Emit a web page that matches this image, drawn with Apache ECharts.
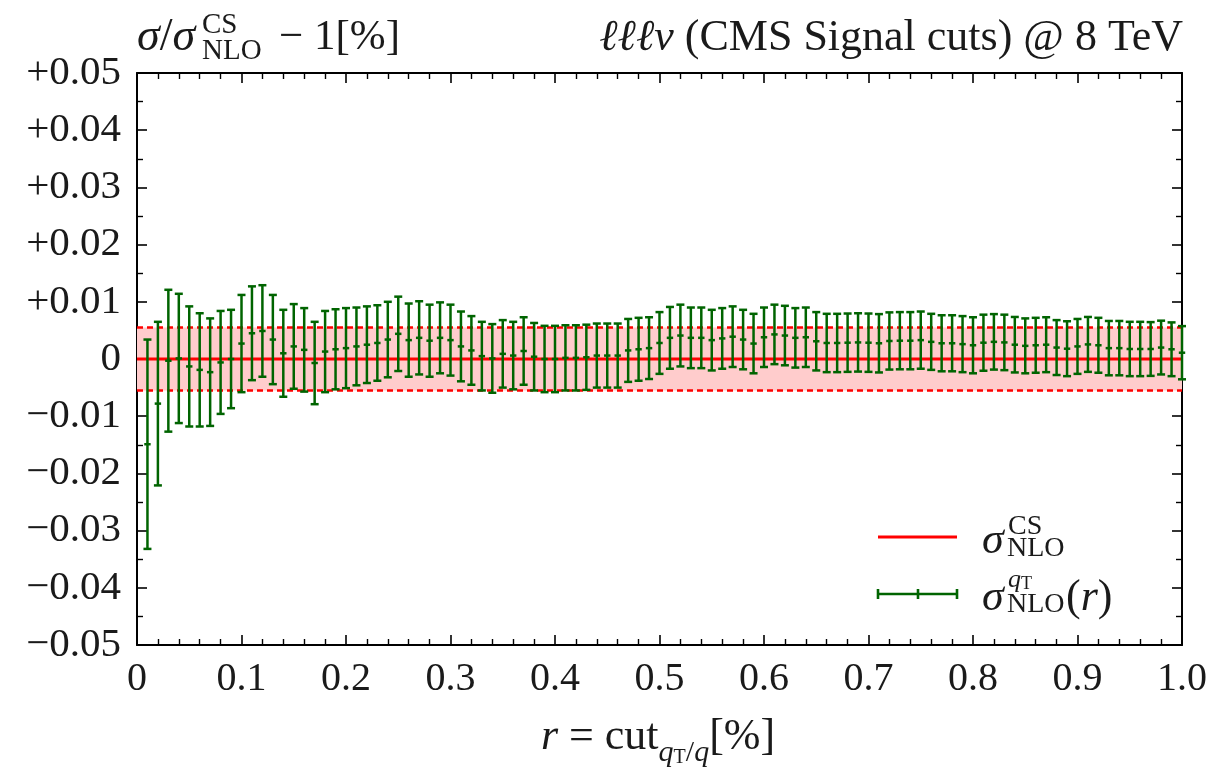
<!DOCTYPE html>
<html><head><meta charset="utf-8">
<script src="https://cdn.jsdelivr.net/npm/echarts@6/dist/echarts.min.js"></script>
<style>html,body{margin:0;padding:0;background:#fff}#c{width:1216px;height:771px}</style>
</head><body><div id="c"></div>
<script>
// r = cut_{qT/q} [%]
const rValues = [0.01,0.02,0.03,0.04,0.05,0.06,0.07,0.08,0.09,0.10,
  0.11,0.12,0.13,0.14,0.15,0.16,0.17,0.18,0.19,0.20,
  0.21,0.22,0.23,0.24,0.25,0.26,0.27,0.28,0.29,0.30,
  0.31,0.32,0.33,0.34,0.35,0.36,0.37,0.38,0.39,0.40,
  0.41,0.42,0.43,0.44,0.45,0.46,0.47,0.48,0.49,0.50,
  0.51,0.52,0.53,0.54,0.55,0.56,0.57,0.58,0.59,0.60,
  0.61,0.62,0.63,0.64,0.65,0.66,0.67,0.68,0.69,0.70,
  0.71,0.72,0.73,0.74,0.75,0.76,0.77,0.78,0.79,0.80,
  0.81,0.82,0.83,0.84,0.85,0.86,0.87,0.88,0.89,0.90,
  0.91,0.92,0.93,0.94,0.95,0.96,0.97,0.98,0.99,1.00];
// sigma_NLO^{qT}(r)/sigma_NLO^CS - 1 [%]
const deviation = [-0.0149,-0.0078,-0.0003,0.0001,-0.0013,-0.0019,-0.0023,-0.0006,0.0000,0.0027,
  0.0045,0.0049,0.0034,0.0010,0.0022,0.0016,-0.0007,0.0013,0.0017,0.0019,
  0.0022,0.0025,0.0028,0.0034,0.0044,0.0033,0.0037,0.0032,0.0037,0.0033,
  0.0022,0.0015,0.0005,0.0001,0.0009,0.0006,0.0014,0.0004,0.0000,0.0000,
  0.0002,0.0002,0.0003,0.0006,0.0006,0.0006,0.0015,0.0017,0.0019,0.0028,
  0.0037,0.0041,0.0037,0.0037,0.0033,0.0036,0.0039,0.0034,0.0027,0.0038,
  0.0043,0.0041,0.0037,0.0038,0.0031,0.0028,0.0028,0.00285,0.0029,0.00285,
  0.00275,0.00315,0.0032,0.0032,0.0033,0.0030,0.00275,0.00275,0.0026,0.0024,
  0.00285,0.0030,0.0029,0.0025,0.0023,0.0024,0.0025,0.0020,0.0018,0.0022,
  0.00255,0.0024,0.0019,0.0019,0.00175,0.00175,0.00175,0.0020,0.0017,0.0011];
// MC integration uncertainty (half width of error bar)
const uncertainty = [0.0183,0.0143,0.0124,0.0113,0.0105,0.0099,0.0094,0.0090,0.0086,0.0085,
  0.0082,0.0080,0.0078,0.0076,0.0074,0.0073,0.0072,0.0071,0.0070,0.0070,
  0.0068,0.0067,0.0066,0.0066,0.0065,0.0064,0.0064,0.0063,0.0062,0.0062,
  0.0061,0.0060,0.0060,0.0060,0.0059,0.0059,0.0059,0.0059,0.0058,0.0058,
  0.0057,0.0057,0.0057,0.0056,0.0056,0.0056,0.0055,0.0055,0.0054,0.0054,
  0.0054,0.0054,0.0053,0.0053,0.0053,0.0053,0.0053,0.0052,0.0052,0.0052,
  0.0052,0.0052,0.0052,0.0052,0.0051,0.0051,0.0051,0.0051,0.0051,0.0051,
  0.0051,0.0050,0.0050,0.0050,0.0050,0.0049,0.0049,0.0049,0.0049,0.0049,
  0.0049,0.00485,0.00485,0.00485,0.0048,0.0048,0.0048,0.0048,0.0048,0.0048,
  0.0048,0.0048,0.00475,0.00475,0.00475,0.00475,0.0047,0.0047,0.0047,0.00465];
// sigma_NLO^CS reference and its uncertainty band
const csRange = [0, 1];
const csValue = 0;
const csBandHalfWidth = 0.0055;
const xTickLabels = ['0','0.1','0.2','0.3','0.4','0.5','0.6','0.7','0.8','0.9','1.0'];
const yTickLabels = ['\u22120.05','\u22120.04','\u22120.03','\u22120.02','\u22120.01','0','+0.01','+0.02','+0.03','+0.04','+0.05'];

const FONT = 'Liberation Serif';
const INK = '#1a1a1a';
const GREEN = '#006400';
const RED = '#ff0000';

const chart = echarts.init(document.getElementById('c'), null, {renderer: 'canvas'});

const axisCommon = {
  type: 'value',
  axisLine: {show: true, onZero: false, lineStyle: {color: '#000', width: 2}},
  axisTick: {show: true, inside: true, length: 10, lineStyle: {color: '#000', width: 1.6}},
  minorTick: {show: true, length: 6, lineStyle: {color: '#000', width: 1.4}},
  splitLine: {show: false},
  minorSplitLine: {show: false}
};

const xFmt = v => xTickLabels[Math.round(v * 10)] || '';
const yFmt = v => yTickLabels[Math.round(v * 100) + 5] || '';

const option = {
  backgroundColor: '#fff',
  animation: false,
  grid: {left: 137, right: 34, top: 73, bottom: 126, show: false},
  xAxis: [
    Object.assign({}, axisCommon, {min: 0, max: 1, interval: 0.1, position: 'bottom',
      minorTick: Object.assign({}, axisCommon.minorTick, {splitNumber: 5}),
      axisLabel: {show: true, formatter: xFmt, fontFamily: FONT, fontSize: 40, color: INK, margin: 14}}),
    Object.assign({}, axisCommon, {min: 0, max: 1, interval: 0.1, position: 'top',
      minorTick: Object.assign({}, axisCommon.minorTick, {splitNumber: 5}),
      axisLabel: {show: false}})
  ],
  yAxis: [
    Object.assign({}, axisCommon, {min: -0.05, max: 0.05, interval: 0.01, position: 'left',
      minorTick: Object.assign({}, axisCommon.minorTick, {splitNumber: 2}),
      axisLabel: {show: true, formatter: yFmt, fontFamily: FONT, fontSize: 41, color: INK, margin: 16, padding: [0,0,6,0]}}),
    Object.assign({}, axisCommon, {min: -0.05, max: 0.05, interval: 0.01, position: 'right',
      minorTick: Object.assign({}, axisCommon.minorTick, {splitNumber: 2}),
      axisLabel: {show: false}})
  ],
  series: [
    {
      type: 'custom', name: 'band', z: 1, silent: true,
      encode: {x: [0, 1], y: [2, 3]},
      data: [[csRange[0], csRange[1], csValue - csBandHalfWidth, csValue + csBandHalfWidth]],
      renderItem: (params, api) => {
        const a = api.coord([api.value(0), api.value(2)]);
        const b = api.coord([api.value(1), api.value(3)]);
        return {type: 'rect', shape: {x: a[0], y: b[1], width: b[0] - a[0], height: a[1] - b[1]},
          style: {fill: '#ffcccc'}};
      }
    },
    {
      type: 'line', name: 'bandUp', z: 2, symbol: 'none', silent: true,
      data: csRange.map(x => [x, csValue + csBandHalfWidth]),
      lineStyle: {color: RED, width: 2.5, type: [6, 4]}
    },
    {
      type: 'line', name: 'bandLo', z: 2, symbol: 'none', silent: true,
      data: csRange.map(x => [x, csValue - csBandHalfWidth]),
      lineStyle: {color: RED, width: 2.5, type: [6, 4]}
    },
    {
      type: 'line', name: 'CS', z: 3, symbol: 'none', silent: true,
      data: csRange.map(x => [x, csValue]),
      lineStyle: {color: RED, width: 3}
    },
    {
      type: 'custom', name: 'qT', z: 4, silent: true, clip: false,
      encode: {x: 0, y: [1, 2, 3]},
      data: rValues.map((r, i) => [r, deviation[i], deviation[i] - uncertainty[i], deviation[i] + uncertainty[i]]),
      renderItem: (params, api) => {
        const pc = api.coord([api.value(0), api.value(1)]);
        const pl = api.coord([api.value(0), api.value(2)]);
        const ph = api.coord([api.value(0), api.value(3)]);
        const w = 4, wc = 3.2;
        const st = {stroke: GREEN, lineWidth: 2.5};
        return {type: 'group', children: [
          {type: 'line', shape: {x1: pc[0], y1: ph[1], x2: pc[0], y2: pl[1]}, style: st},
          {type: 'line', shape: {x1: pc[0] - w, y1: ph[1], x2: pc[0] + w, y2: ph[1]}, style: st},
          {type: 'line', shape: {x1: pc[0] - w, y1: pl[1], x2: pc[0] + w, y2: pl[1]}, style: st},
          {type: 'line', shape: {x1: pc[0] - wc, y1: pc[1], x2: pc[0] + wc, y2: pc[1]}, style: st}
        ]};
      }
    }
  ],
  graphic: [
    // top-left axis title: sigma / sigma^CS_NLO - 1 [%]
    {type: 'text', x: 137, y: 38, style: {text: '{i|\u03c3}/{i|\u03c3}', fill: INK, fontFamily: FONT, fontSize: 46, verticalAlign: 'middle', align: 'left',
      rich: {i: {fontFamily: FONT, fontSize: 46, fontStyle: 'italic'}}}},
    {type: 'text', x: 202, y: 25, style: {text: 'CS', fill: INK, fontFamily: FONT, fontSize: 29, verticalAlign: 'middle', align: 'left'}},
    {type: 'text', x: 202, y: 51, style: {text: 'NLO', fill: INK, fontFamily: FONT, fontSize: 29, verticalAlign: 'middle', align: 'left'}},
    {type: 'text', x: 279, y: 38, style: {text: '\u2212 1[%]', fill: INK, fontFamily: FONT, fontSize: 43, verticalAlign: 'middle', align: 'left'}},
    // top-right title
    {type: 'text', x: 1183, y: 38, style: {text: '{i|\u2113\u2113\u2113\u03bd} (CMS Signal cuts) @ 8 TeV', fill: INK, fontFamily: FONT, fontSize: 44, verticalAlign: 'middle', align: 'right',
      rich: {i: {fontFamily: FONT, fontSize: 44, fontStyle: 'italic'}}}},
    // x-axis title
    {type: 'text', x: 658, y: 737, style: {text: '{i|r} = cut{si|q}{st|T}{s|/}{si|q}[%]', fill: INK, fontFamily: FONT, fontSize: 44, lineHeight: 62, verticalAlign: 'middle', align: 'center',
      rich: {
        i: {fontFamily: FONT, fontSize: 44, fontStyle: 'italic'},
        si: {fontFamily: FONT, fontSize: 30, fontStyle: 'italic', verticalAlign: 'bottom', lineHeight: 30},
        s: {fontFamily: FONT, fontSize: 30, verticalAlign: 'bottom', lineHeight: 30},
        st: {fontFamily: FONT, fontSize: 20, verticalAlign: 'bottom', lineHeight: 25}
      }}},
    // legend item 1
    {type: 'line', shape: {x1: 878, y1: 537, x2: 957, y2: 537}, style: {stroke: RED, lineWidth: 3}},
    {type: 'text', x: 982, y: 541, style: {text: '\u03c3', fill: INK, fontFamily: FONT, fontSize: 44, fontStyle: 'italic', verticalAlign: 'middle', align: 'left'}},
    {type: 'text', x: 1008, y: 527, style: {text: 'CS', fill: INK, fontFamily: FONT, fontSize: 28, verticalAlign: 'middle', align: 'left'}},
    {type: 'text', x: 1007, y: 549, style: {text: 'NLO', fill: INK, fontFamily: FONT, fontSize: 28, verticalAlign: 'middle', align: 'left'}},
    // legend item 2
    {type: 'line', shape: {x1: 877, y1: 594, x2: 958, y2: 594}, style: {stroke: GREEN, lineWidth: 2.6}},
    {type: 'line', shape: {x1: 878, y1: 589, x2: 878, y2: 599}, style: {stroke: GREEN, lineWidth: 2.6}},
    {type: 'line', shape: {x1: 918, y1: 589, x2: 918, y2: 599}, style: {stroke: GREEN, lineWidth: 2.6}},
    {type: 'line', shape: {x1: 957, y1: 589, x2: 957, y2: 599}, style: {stroke: GREEN, lineWidth: 2.6}},
    {type: 'text', x: 982, y: 598, style: {text: '\u03c3', fill: INK, fontFamily: FONT, fontSize: 44, fontStyle: 'italic', verticalAlign: 'middle', align: 'left'}},
    {type: 'text', x: 1008, y: 580, style: {text: '{i|q}{t|T}', fill: INK, fontFamily: FONT, fontSize: 26, verticalAlign: 'middle', align: 'left',
      rich: {i: {fontFamily: FONT, fontSize: 26, fontStyle: 'italic'}, t: {fontFamily: FONT, fontSize: 18, verticalAlign: 'bottom', lineHeight: 22}}}},
    {type: 'text', x: 1007, y: 605, style: {text: 'NLO', fill: INK, fontFamily: FONT, fontSize: 28, verticalAlign: 'middle', align: 'left'}},
    {type: 'text', x: 1066, y: 598, style: {text: '({i|r})', fill: INK, fontFamily: FONT, fontSize: 44, verticalAlign: 'middle', align: 'left',
      rich: {i: {fontFamily: FONT, fontSize: 44, fontStyle: 'italic'}}}}
  ]
};
chart.setOption(option);
</script></body></html>
